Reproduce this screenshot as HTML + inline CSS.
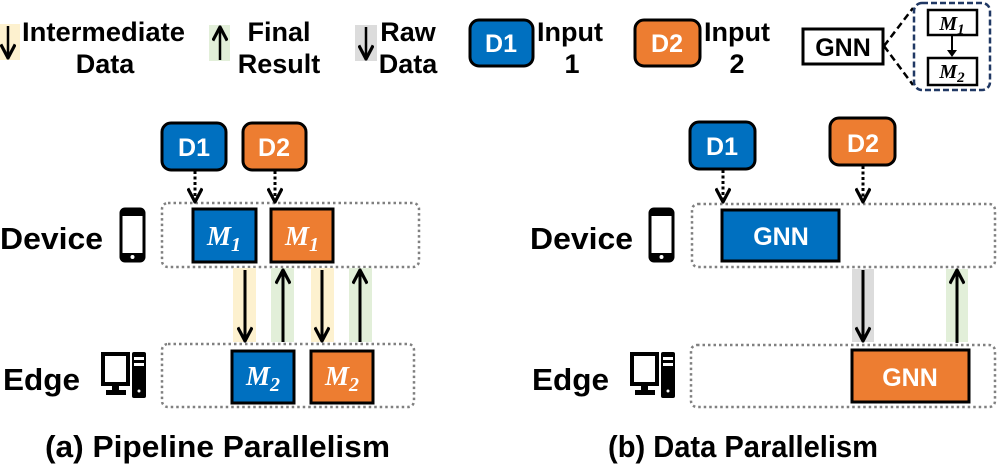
<!DOCTYPE html>
<html><head><meta charset="utf-8"><style>
html,body{margin:0;padding:0;background:#fff;}
svg{display:block;}
text{font-family:"Liberation Sans",sans-serif;font-weight:bold;}
.m{font-family:"Liberation Serif",serif;font-style:italic;font-weight:bold;}
</style></head><body>
<svg width="997" height="473" viewBox="0 0 997 473" xmlns="http://www.w3.org/2000/svg">
<defs>
<marker id="ah" markerWidth="16" markerHeight="16" refX="9" refY="5" orient="auto" markerUnits="userSpaceOnUse" viewBox="0 0 10 10">
<path d="M0.5,0.5 L9,5 L0.5,9.5" fill="none" stroke="#000" stroke-width="2"/>
</marker>
</defs>
<!-- Legend -->
<rect x="0" y="24" width="20" height="36" fill="#fdf1cf"/>
<line x1="8" y1="26" x2="8" y2="58" stroke="#000" stroke-width="2.5" marker-end="url(#ah)"/>
<text x="22" y="41" font-size="27" textLength="163" lengthAdjust="spacingAndGlyphs">Intermediate</text>
<text x="105" y="73" font-size="27" text-anchor="middle">Data</text>
<rect x="209" y="25" width="21" height="36" fill="#e2efd9"/>
<line x1="220" y1="60" x2="220" y2="27" stroke="#000" stroke-width="2.5" marker-end="url(#ah)"/>
<text x="279" y="41" font-size="27" text-anchor="middle">Final</text>
<text x="279" y="73" font-size="27" text-anchor="middle">Result</text>
<rect x="355" y="25" width="22" height="36" fill="#dcdcdc"/>
<line x1="366" y1="27" x2="366" y2="59" stroke="#000" stroke-width="2.5" marker-end="url(#ah)"/>
<text x="408" y="41" font-size="27" text-anchor="middle">Raw</text>
<text x="408" y="73" font-size="27" text-anchor="middle">Data</text>
<rect x="470" y="20" width="63" height="46" rx="9" fill="#0070c0" stroke="#000" stroke-width="3"/>
<text x="501" y="52" font-size="25" fill="#fff" text-anchor="middle">D1</text>
<text x="570" y="41" font-size="27" text-anchor="middle">Input</text>
<text x="572" y="73" font-size="27" text-anchor="middle">1</text>
<rect x="635" y="20" width="65" height="46" rx="9" fill="#ed7d31" stroke="#000" stroke-width="3"/>
<text x="667" y="52" font-size="25" fill="#fff" text-anchor="middle">D2</text>
<text x="737" y="41" font-size="27" text-anchor="middle">Input</text>
<text x="737" y="73" font-size="27" text-anchor="middle">2</text>
<rect x="803" y="29" width="80" height="35" fill="#fff" stroke="#000" stroke-width="3"/>
<text x="843" y="56" font-size="25" text-anchor="middle">GNN</text>
<line x1="884" y1="46" x2="913" y2="8" stroke="#000" stroke-width="2.5" stroke-dasharray="7,4"/>
<line x1="884" y1="46" x2="913" y2="85" stroke="#000" stroke-width="2.5" stroke-dasharray="7,4"/>
<rect x="914" y="3" width="76" height="87" rx="8" fill="none" stroke="#203864" stroke-width="2.5" stroke-dasharray="6,3"/>
<rect x="928" y="10" width="49" height="25" fill="#fff" stroke="#000" stroke-width="2.5"/>
<text x="952" y="30" font-size="20" class="m" text-anchor="middle">M<tspan font-size="15" dy="4">1</tspan></text>
<line x1="952" y1="36" x2="952" y2="55" stroke="#000" stroke-width="2"/>
<path d="M947,50 L952,57 L957,50 Z" fill="#000"/>
<rect x="928" y="58" width="49" height="27" fill="#fff" stroke="#000" stroke-width="2.5"/>
<text x="952" y="78" font-size="20" class="m" text-anchor="middle">M<tspan font-size="15" dy="4">2</tspan></text>

<!-- (a) -->
<text x="0" y="249" font-size="31" textLength="103" lengthAdjust="spacingAndGlyphs">Device</text>
<text x="3" y="390" font-size="31" textLength="77" lengthAdjust="spacingAndGlyphs">Edge</text>
<g id="phone">
<rect x="121" y="209" width="23" height="52" rx="4" fill="none" stroke="#000" stroke-width="3"/>
<rect x="121" y="209" width="23" height="7" fill="#000"/>
<rect x="121" y="253" width="23" height="8" fill="#000"/>
<circle cx="132.5" cy="257" r="2" fill="#fff"/>
</g>
<g id="pc">
<rect x="103" y="354" width="25" height="30" fill="none" stroke="#000" stroke-width="4"/>
<rect x="112" y="384" width="7" height="6" fill="#000"/>
<rect x="106" y="390" width="20" height="5" fill="#000"/>
<rect x="132" y="352" width="14" height="46" rx="2" fill="#000"/>
<rect x="134" y="357" width="10" height="3" fill="#fff"/>
<rect x="134" y="363" width="10" height="3" fill="#fff"/>
<circle cx="139" cy="391" r="1.5" fill="#fff"/>
</g>
<rect x="162" y="203" width="257" height="64" rx="6" fill="none" stroke="#808080" stroke-width="2.5" stroke-dasharray="2.5,3"/>
<rect x="162" y="344" width="252" height="63" rx="6" fill="none" stroke="#808080" stroke-width="2.5" stroke-dasharray="2.5,3"/>
<rect x="162" y="123" width="64" height="47" rx="9" fill="#0070c0" stroke="#000" stroke-width="3"/>
<text x="194" y="156" font-size="25" fill="#fff" text-anchor="middle">D1</text>
<rect x="243" y="123" width="63" height="47" rx="9" fill="#ed7d31" stroke="#000" stroke-width="3"/>
<text x="274" y="156" font-size="25" fill="#fff" text-anchor="middle">D2</text>
<line x1="195" y1="171" x2="195" y2="202" stroke="#000" stroke-width="3" stroke-dasharray="3,2.5" marker-end="url(#ah)"/>
<line x1="275" y1="171" x2="275" y2="202" stroke="#000" stroke-width="3" stroke-dasharray="3,2.5" marker-end="url(#ah)"/>
<rect x="193" y="209" width="63" height="53" fill="#0070c0" stroke="#000" stroke-width="3"/>
<text x="224" y="245" font-size="27" class="m" fill="#fff" text-anchor="middle">M<tspan font-size="20" dy="6">1</tspan></text>
<rect x="271" y="209" width="62" height="53" fill="#ed7d31" stroke="#000" stroke-width="3"/>
<text x="302" y="245" font-size="27" class="m" fill="#fff" text-anchor="middle">M<tspan font-size="20" dy="6">1</tspan></text>
<rect x="233" y="268" width="23" height="74" fill="#fdf1cf"/>
<rect x="271" y="268" width="23" height="74" fill="#e2efd9"/>
<rect x="311" y="268" width="23" height="74" fill="#fdf1cf"/>
<rect x="349" y="268" width="23" height="74" fill="#e2efd9"/>
<line x1="245" y1="270" x2="245" y2="341" stroke="#000" stroke-width="3" marker-end="url(#ah)"/>
<line x1="283" y1="342" x2="283" y2="270" stroke="#000" stroke-width="3" marker-end="url(#ah)"/>
<line x1="322" y1="270" x2="322" y2="341" stroke="#000" stroke-width="3" marker-end="url(#ah)"/>
<line x1="360" y1="342" x2="360" y2="270" stroke="#000" stroke-width="3" marker-end="url(#ah)"/>
<rect x="232" y="351" width="62" height="52" fill="#0070c0" stroke="#000" stroke-width="3"/>
<text x="263" y="385" font-size="27" class="m" fill="#fff" text-anchor="middle">M<tspan font-size="20" dy="6">2</tspan></text>
<rect x="311" y="351" width="62" height="52" fill="#ed7d31" stroke="#000" stroke-width="3"/>
<text x="342" y="385" font-size="27" class="m" fill="#fff" text-anchor="middle">M<tspan font-size="20" dy="6">2</tspan></text>
<text x="45" y="457" font-size="31" textLength="345" lengthAdjust="spacingAndGlyphs">(a) Pipeline Parallelism</text>

<!-- (b) -->
<text x="530" y="249" font-size="31" textLength="103" lengthAdjust="spacingAndGlyphs">Device</text>
<text x="532" y="390" font-size="31" textLength="77" lengthAdjust="spacingAndGlyphs">Edge</text>
<use href="#phone" transform="translate(529,0)"/>
<use href="#pc" transform="translate(529,0)"/>
<rect x="692" y="204" width="303" height="63" rx="6" fill="none" stroke="#808080" stroke-width="2.5" stroke-dasharray="2.5,3"/>
<rect x="691" y="345" width="304" height="62" rx="6" fill="none" stroke="#808080" stroke-width="2.5" stroke-dasharray="2.5,3"/>
<rect x="690" y="122" width="65" height="47" rx="9" fill="#0070c0" stroke="#000" stroke-width="3"/>
<text x="722" y="155" font-size="25" fill="#fff" text-anchor="middle">D1</text>
<rect x="830" y="118" width="65" height="47" rx="9" fill="#ed7d31" stroke="#000" stroke-width="3"/>
<text x="863" y="152" font-size="25" fill="#fff" text-anchor="middle">D2</text>
<line x1="723" y1="170" x2="723" y2="202" stroke="#000" stroke-width="3" stroke-dasharray="3,2.5" marker-end="url(#ah)"/>
<line x1="863" y1="166" x2="863" y2="202" stroke="#000" stroke-width="3" stroke-dasharray="3,2.5" marker-end="url(#ah)"/>
<rect x="722" y="210" width="117" height="51" fill="#0070c0" stroke="#000" stroke-width="3"/>
<text x="781" y="245" font-size="25" fill="#fff" text-anchor="middle">GNN</text>
<rect x="852" y="269" width="22" height="73" fill="#dcdcdc"/>
<rect x="946" y="269" width="22" height="73" fill="#e2efd9"/>
<line x1="863" y1="270" x2="863" y2="341" stroke="#000" stroke-width="3" marker-end="url(#ah)"/>
<line x1="957" y1="343" x2="957" y2="270" stroke="#000" stroke-width="3" marker-end="url(#ah)"/>
<rect x="852" y="350" width="117" height="52" fill="#ed7d31" stroke="#000" stroke-width="3"/>
<text x="910" y="386" font-size="25" fill="#fff" text-anchor="middle">GNN</text>
<text x="608" y="457" font-size="31" textLength="270" lengthAdjust="spacingAndGlyphs">(b) Data Parallelism</text>
</svg>
</body></html>
